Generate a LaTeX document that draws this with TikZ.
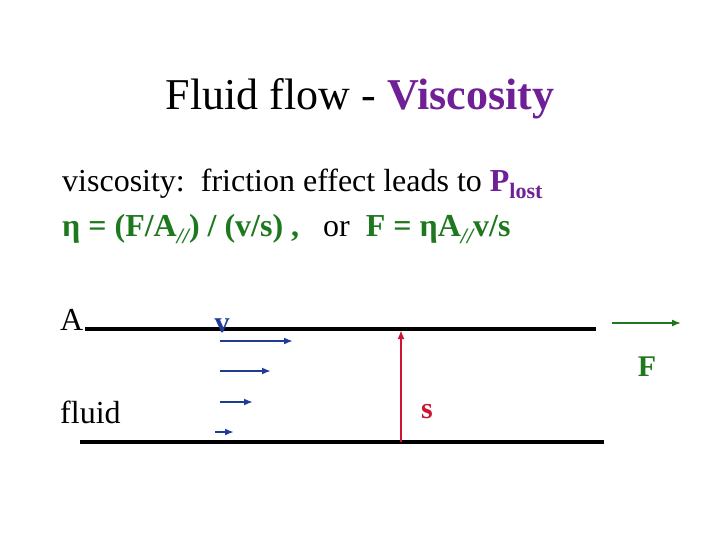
\documentclass[tikz,border=0pt]{standalone}
\usepackage{fontspec}
\setmainfont{Liberation Serif}
\usetikzlibrary{arrows.meta}
\definecolor{vpurple}{RGB}{112,32,150}
\definecolor{vgreen}{RGB}{30,120,30}
\definecolor{vblue}{RGB}{30,60,150}
\definecolor{vred}{RGB}{205,20,50}
\begin{document}
\begin{tikzpicture}[x=1pt,y=-1pt,
  txt/.style={inner sep=0pt,font=\fontsize{32}{35}\selectfont},
  plate/.style={line width=3.5pt},
  tip/.style={-{Latex[length=9pt,width=7pt]}},
  varrow/.style={vblue,line width=1.8pt,tip},
  lbl/.style={inner sep=0pt,font=\fontsize{30}{34}\selectfont\bfseries}]
\useasboundingbox (0,0) rectangle (720,540);
\node[inner sep=0pt,font=\fontsize{44}{48}\selectfont] (title) at (360,99) {Fluid flow - \textcolor{vpurple}{\bfseries Viscosity}};
\node[txt,anchor=west] (l1) at (62,184) {viscosity:\ \ friction effect leads to \textcolor{vpurple}{\bfseries P\raisebox{-0.5ex}{\fontsize{22}{23}\selectfont lost}}};
\node[txt,anchor=west] (l2) at (62,229) {\textcolor{vgreen}{\bfseries η = (F/A\raisebox{-0.5ex}{\fontsize{22}{23}\selectfont\itshape //}) / (v/s) ,}\ \ \ or \ \textcolor{vgreen}{\bfseries F = ηA\raisebox{-0.5ex}{\fontsize{22}{23}\selectfont\itshape //}v/s}};
\coordinate (t1) at (85,329); \coordinate (t2) at (596,329);
\coordinate (b1) at (80,442); \coordinate (b2) at (604,442);
\draw[plate] (t1) -- (t2);
\draw[plate] (b1) -- (b2);
\node[txt,anchor=base west] (A) at (60,330) {A};
\node[lbl,vblue,anchor=base] (v) at (222,332) {v};
\node[lbl,vgreen] (F) at (647,367) {F};
\node[txt,anchor=west] (fluid) at (60,412) {fluid};
\node[lbl,vred] (s) at (427,412) {s};
\coordinate (f1) at (612,323); \coordinate (f2) at (681,323);
\draw[vgreen,line width=1.5pt,tip] (f1) -- (f2);
\coordinate (a1) at (220,341); \coordinate (a2) at (293,341);
\coordinate (a3) at (220,371); \coordinate (a4) at (271,371);
\coordinate (a5) at (220,402); \coordinate (a6) at (253,402);
\coordinate (a7) at (215,432); \coordinate (a8) at (234,432);
\draw[varrow] (a1) -- (a2);
\draw[varrow] (a3) -- (a4);
\draw[varrow] (a5) -- (a6);
\draw[varrow] (a7) -- (a8);
\coordinate (r1) at (401,442); \coordinate (r2) at (401,330);
\draw[vred,line width=1.8pt,tip] (r1) -- (r2);
\end{tikzpicture}
\end{document}
